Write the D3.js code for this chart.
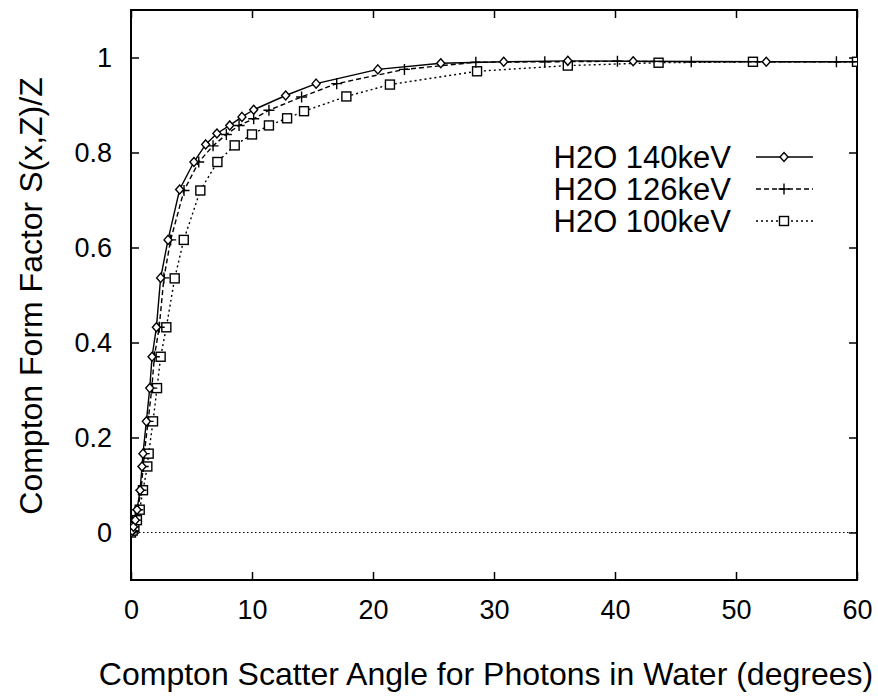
<!DOCTYPE html>
<html>
<head>
<meta charset="utf-8">
<script src="https://cdn.jsdelivr.net/npm/d3@7"></script>
<style>
  body { margin: 0; background: #fff; }
  text { font-family: 'Liberation Sans', Arial, sans-serif; fill: #000; }
</style>
</head>
<body>
<script>
// Compton scatter angle (degrees) and S(x,Z)/Z for each photon energy
var angle140 = [0, 0.1, 0.2, 0.35, 0.5, 0.75, 0.91, 0.99, 1.27, 1.55, 1.74, 2.1, 2.45, 3.06, 4.02, 5.2, 6.17, 7.1, 8.16, 9.17, 10.14, 12.78, 15.3, 20.4, 25.6, 30.8, 36.1, 41.5, 52.5, 63];
var form140 = [0, 0.004, 0.012, 0.026, 0.048, 0.089, 0.139, 0.166, 0.234, 0.304, 0.37, 0.432, 0.536, 0.616, 0.722, 0.78, 0.817, 0.84, 0.857, 0.875, 0.89, 0.92, 0.945, 0.975, 0.988, 0.991, 0.993, 0.992, 0.991, 0.991];

var angle126 = [0, 0.11, 0.22, 0.39, 0.56, 0.83, 1.01, 1.1, 1.41, 1.72, 1.93, 2.33, 2.72, 3.28, 4.38, 5.6, 6.78, 7.88, 8.93, 10.14, 11.4, 14.1, 17.0, 22.6, 28.5, 34.2, 40.2, 46.3, 58.3, 70.5];
var form126 = [0, 0.004, 0.012, 0.026, 0.048, 0.089, 0.139, 0.166, 0.234, 0.304, 0.37, 0.432, 0.536, 0.616, 0.72, 0.78, 0.814, 0.838, 0.857, 0.871, 0.889, 0.917, 0.945, 0.975, 0.99, 0.991, 0.992, 0.991, 0.991, 0.991];

var angle100 = [0, 0.14, 0.28, 0.49, 0.72, 0.99, 1.35, 1.46, 1.82, 2.15, 2.45, 2.92, 3.61, 4.36, 5.73, 7.14, 8.57, 10.0, 11.4, 12.9, 14.3, 17.8, 21.4, 28.6, 36.1, 43.6, 51.4, 60];
var form100 = [0, 0.004, 0.012, 0.026, 0.048, 0.089, 0.139, 0.166, 0.234, 0.304, 0.37, 0.432, 0.535, 0.616, 0.72, 0.78, 0.815, 0.838, 0.857, 0.872, 0.887, 0.918, 0.943, 0.971, 0.983, 0.989, 0.991, 0.991];

var seriesNames = ['H2O 140keV', 'H2O 126keV', 'H2O 100keV'];
var xTicks = [0, 10, 20, 30, 40, 50, 60];
var yTicks = [0, 0.2, 0.4, 0.6, 0.8, 1];

var series = [
  { name: seriesNames[0], x: angle140, y: form140, dash: null, symbol: 'diamond' },
  { name: seriesNames[1], x: angle126, y: form126, dash: '5,3', symbol: 'plus' },
  { name: seriesNames[2], x: angle100, y: form100, dash: '2,3', symbol: 'square' }
];

var svg = d3.select('body').append('svg').attr('width', 878).attr('height', 697);
var pLeft = 131, pRight = 857, pTop = 10, pBottom = 580;

var xScale = d3.scaleLinear().domain([0, 60]).range([pLeft, pRight]);
var yScale = d3.scaleLinear().domain([-0.1, 1.1]).range([pBottom, pTop]);

svg.append('clipPath').attr('id', 'plotclip')
  .append('rect')
  .attr('x', pLeft).attr('y', pTop)
  .attr('width', pRight - pLeft).attr('height', pBottom - pTop);

// zero line
svg.append('line')
  .attr('x1', xScale(0)).attr('x2', xScale(60))
  .attr('y1', yScale(0)).attr('y2', yScale(0))
  .attr('stroke', '#000').attr('stroke-width', 1)
  .attr('stroke-dasharray', '1.5,2.5');

// axes: ticks on all four sides pointing inward
var tickLen = 8;
var gx = svg.append('g').attr('transform', 'translate(0,' + pBottom + ')')
  .call(d3.axisBottom(xScale).tickValues(xTicks).tickSizeInner(-tickLen).tickSizeOuter(0).tickPadding(20));
var gxTop = svg.append('g').attr('transform', 'translate(0,' + pTop + ')')
  .call(d3.axisTop(xScale).tickValues(xTicks).tickSizeInner(-tickLen).tickSizeOuter(0).tickFormat(''));
var gy = svg.append('g').attr('transform', 'translate(' + pLeft + ',0)')
  .call(d3.axisLeft(yScale).tickValues(yTicks).tickSizeInner(-tickLen).tickSizeOuter(0).tickPadding(19).tickFormat(d3.format('')));
var gyRight = svg.append('g').attr('transform', 'translate(' + pRight + ',0)')
  .call(d3.axisRight(yScale).tickValues(yTicks).tickSizeInner(-tickLen).tickSizeOuter(0).tickFormat(''));

[gx, gxTop, gy, gyRight].forEach(function (g) {
  g.select('.domain').remove();
  g.selectAll('.tick line').attr('stroke', '#000').attr('stroke-width', 1.5);
  g.selectAll('.tick text').attr('font-size', '27px').attr('font-family', "'Liberation Sans', Arial, sans-serif").attr('fill', '#000');
});
gx.selectAll('.tick text').attr('dy', '0.7em');

svg.append('rect')
  .attr('x', pLeft).attr('y', pTop)
  .attr('width', pRight - pLeft).attr('height', pBottom - pTop)
  .attr('fill', 'none').attr('stroke', '#000').attr('stroke-width', 2);

// symbols
function drawSymbol(g, kind, cx, cy) {
  if (kind === 'diamond') {
    g.append('path')
      .attr('d', 'M' + cx + ',' + (cy - 4.5) + 'L' + (cx + 4) + ',' + cy + 'L' + cx + ',' + (cy + 4.5) + 'L' + (cx - 4) + ',' + cy + 'Z')
      .attr('fill', '#fff').attr('stroke', '#000').attr('stroke-width', 1.4);
  } else if (kind === 'plus') {
    g.append('path')
      .attr('d', 'M' + (cx - 5.5) + ',' + cy + 'H' + (cx + 5.5) + 'M' + cx + ',' + (cy - 5.5) + 'V' + (cy + 5.5))
      .attr('fill', 'none').attr('stroke', '#000').attr('stroke-width', 1.4);
  } else {
    g.append('rect')
      .attr('x', cx - 4.5).attr('y', cy - 4.5).attr('width', 9).attr('height', 9)
      .attr('fill', '#fff').attr('stroke', '#000').attr('stroke-width', 1.4);
  }
}

var plot = svg.append('g').attr('clip-path', 'url(#plotclip)');
var line = d3.line()
  .x(function (d) { return xScale(d[0]); })
  .y(function (d) { return yScale(d[1]); });

series.slice().reverse().forEach(function (s) {
  var pts = d3.zip(s.x, s.y);
  plot.append('path')
    .datum(pts)
    .attr('d', line)
    .attr('fill', 'none')
    .attr('stroke', '#000')
    .attr('stroke-width', 1.4)
    .attr('stroke-dasharray', s.dash);
  var mg = plot.append('g');
  pts.forEach(function (p) {
    if (p[0] <= 60.5) drawSymbol(mg, s.symbol, xScale(p[0]), yScale(p[1]));
  });
});

// legend
var legend = svg.append('g');
series.forEach(function (s, i) {
  var ly = 157 + i * 32;
  legend.append('text')
    .attr('x', 731).attr('y', ly)
    .attr('dy', '0.36em')
    .attr('text-anchor', 'end')
    .attr('font-size', '31px')
    .text(s.name);
  legend.append('line')
    .attr('x1', 756).attr('x2', 813).attr('y1', ly).attr('y2', ly)
    .attr('stroke', '#000').attr('stroke-width', 1.4)
    .attr('stroke-dasharray', s.dash);
  drawSymbol(legend, s.symbol, 784, ly);
});

// axis titles
svg.append('text')
  .attr('x', 486).attr('y', 685)
  .attr('text-anchor', 'middle')
  .attr('font-size', '32px')
  .text('Compton Scatter Angle for Photons in Water (degrees)');

svg.append('text')
  .attr('transform', 'translate(42,296) rotate(-90)')
  .attr('text-anchor', 'middle')
  .attr('font-size', '32px')
  .text('Compton Form Factor S(x,Z)/Z');
</script>
</body>
</html>
